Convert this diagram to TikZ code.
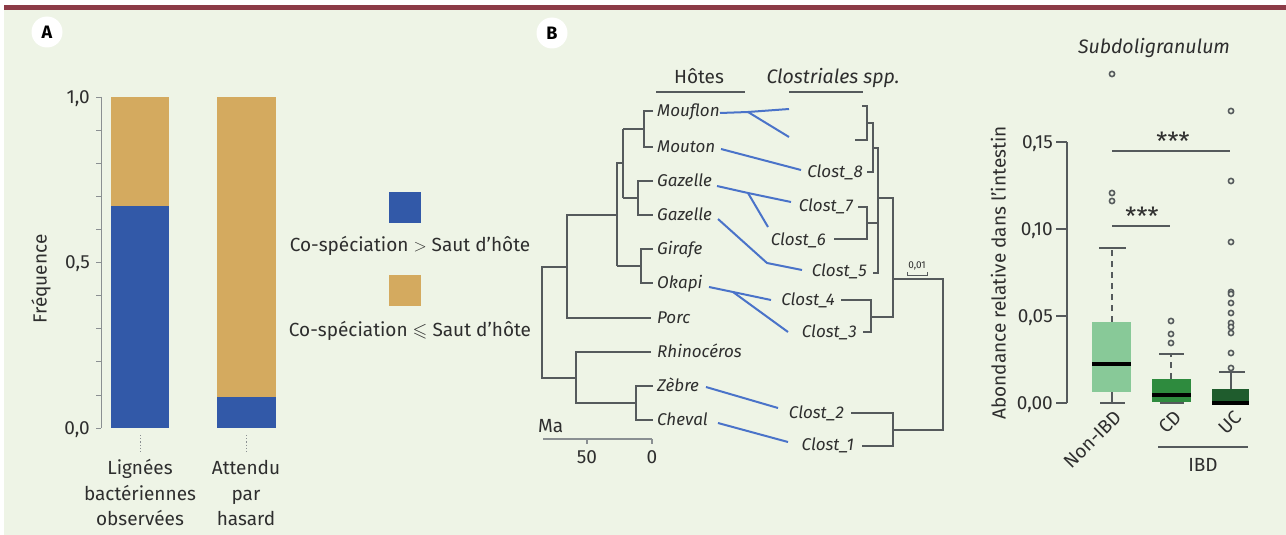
\documentclass[tikz,border=0pt]{standalone}
\usepackage{fontspec}
\setmainfont{Fira Sans}
\usepackage{amssymb}
\usetikzlibrary{calc}
\definecolor{bg}{HTML}{EEF4E6}
\definecolor{topred}{HTML}{8C3B47}
\definecolor{barblue}{HTML}{3259A8}
\definecolor{barorange}{HTML}{D4AA5F}
\definecolor{txt}{HTML}{2E2E2E}
\definecolor{treec}{HTML}{555A5C}
\definecolor{axc}{HTML}{8A8F92}
\definecolor{linkc}{HTML}{4A73C9}
\definecolor{gA}{HTML}{88C998}
\definecolor{gB}{HTML}{2E8B3E}
\definecolor{gC}{HTML}{1F5C2D}
\begin{document}
\begin{tikzpicture}[x=1pt,y=-1pt,
  tl/.style={draw=treec, line width=1.6pt},
  bl/.style={draw=linkc, line width=2pt},
  host/.style={font=\fontsize{17}{20}\selectfont\itshape, anchor=west, inner sep=0pt, text=txt, text height=11.5pt, text depth=0pt},
  clost/.style={font=\fontsize{17}{20}\selectfont\itshape, anchor=east, inner sep=0pt, text=txt, text height=11.5pt, text depth=0pt},
  lab/.style={font=\fontsize{19}{23}\selectfont, text=txt, inner sep=0pt, text height=13pt, text depth=0pt},
  outl/.style={draw=treec, line width=1.6pt, fill=bg},
  whisk/.style={draw=treec, line width=1.5pt},
  panel/.style={circle, fill=white, minimum size=31pt, inner sep=0pt, font=\fontsize{18}{18}\selectfont\bfseries, text=black}
]
\fill[bg] (0,0) rectangle (1286,535);
\fill[white] (0,0) rectangle (1286,5);
\fill[white] (0,0) rectangle (4,535);
\fill[topred] (4,5) rectangle (1286,10);
\useasboundingbox (0,0) rectangle (1286,535);

% ---------- Panel A ----------
\node[panel] (lblA) at (47,32) {A};
\draw[axc, line width=0.8pt] (101,97) -- (101,428);
\foreach \i in {0,...,10} \draw[axc, line width=0.8pt] (96,{97+\i*33.1}) -- (101,{97+\i*33.1});
\node[lab, anchor=east] (t10) at (90,97) {1,0};
\node[lab, anchor=east] (t05) at (90,262) {0,5};
\node[lab, anchor=east] (t00) at (90,428) {0,0};
\node[lab, rotate=90] (freq) at (40,279) {Fréquence};
\fill[barorange] (111,97) rectangle (169,206);
\fill[barblue] (111,206) rectangle (169,428);
\fill[barorange] (217,97) rectangle (276,397);
\fill[barblue] (217,397) rectangle (276,428);
\draw[axc, line width=1pt, dash pattern=on 1.2pt off 2pt] (140,435) -- (140,452);
\draw[axc, line width=1pt, dash pattern=on 1.2pt off 2pt] (246,435) -- (246,452);
\node[lab, align=center, font=\fontsize{19}{25.5}\selectfont, text height=, text depth=] (xl1) at (140,493) {Lignées\\bactériennes\\observées};
\node[lab, align=center, font=\fontsize{19}{25.5}\selectfont, text height=, text depth=] (xl2) at (246,493) {Attendu\\par\\hasard};
% legend
\fill[barblue] (389,192) rectangle (421,223);
\node[lab] (leg1) at (410,245) {Co-spéciation $>$ Saut d’hôte};
\fill[barorange] (389,275) rectangle (421,306);
\node[lab] (leg2) at (410,330) {Co-spéciation $\leqslant$ Saut d’hôte};

% ---------- Panel B ----------
\node[panel] (lblB) at (552,33) {B};
\node[lab] (hotes) at (699,77) {Hôtes};
\draw[treec, line width=2.2pt] (656,92) -- (745,92);
\node[lab, font=\fontsize{19.5}{23}\selectfont\itshape] (clh) at (833,77) {Clostriales spp.};
\draw[treec, line width=2.2pt] (789,92) -- (863,92);

% host leaves
\node[host] (mouflon) at (657,111) {Mouflon};
\node[host] (mouton)  at (657,147) {Mouton};
\node[host] (gaz1)    at (657,181) {Gazelle};
\node[host] (gaz2)    at (657,215) {Gazelle};
\node[host] (girafe)  at (657,249) {Girafe};
\node[host] (okapi)   at (657,283) {Okapi};
\node[host] (porc)    at (657,318) {Porc};
\node[host] (rhino)   at (657,352) {Rhinocéros};
\node[host] (zebre)   at (657,386) {Zèbre};
\node[host] (cheval)  at (657,420) {Cheval};

% host tree
\draw[tl] (653,111) -- (644,111) -- (644,147) -- (653,147);
\draw[tl] (644,129) -- (623,129);
\draw[tl] (653,181) -- (638,181) -- (638,215) -- (653,215);
\draw[tl] (638,198) -- (623,198);
\draw[tl] (623,129) -- (623,198);
\draw[tl] (623,163) -- (617,163) -- (617,266);
\draw[tl] (653,249) -- (641,249) -- (641,283) -- (653,283);
\draw[tl] (641,266) -- (617,266);
\draw[tl] (617,215) -- (567,215) -- (567,318) -- (651,318);
\draw[tl] (567,267) -- (542,267) -- (542,378) -- (576,378);
\draw[tl] (651,352) -- (576,352) -- (576,403) -- (636,403);
\draw[tl] (653,386) -- (636,386) -- (636,420) -- (653,420);

% Ma scale
\node[lab, anchor=west] (ma) at (538,426) {Ma};
\draw[axc, line width=1.2pt] (543,439) -- (652,439);
\draw[axc, line width=1.2pt] (587,439) -- (587,444);
\draw[axc, line width=1.2pt] (652,439) -- (652,444);
\node[lab] (s50) at (587,457) {50};
\node[lab] (s0) at (652,457) {0};

% bacterial leaves
\node[clost] (c8) at (863,172) {Clost\_8};
\node[clost] (c7) at (853,206) {Clost\_7};
\node[clost] (c6) at (826,240) {Clost\_6};
\node[clost] (c5) at (867,271) {Clost\_5};
\node[clost] (c4) at (835,300) {Clost\_4};
\node[clost] (c3) at (857,332) {Clost\_3};
\node[clost] (c2) at (844,413) {Clost\_2};
\node[clost] (c1) at (854,445) {Clost\_1};

% bacterial tree
\draw[tl] (862,106) -- (867,106) -- (867,140) -- (855,140);
\draw[tl] (867,123) -- (873,123) -- (873,172) -- (867,172);
\draw[tl] (873,148) -- (878,148) -- (878,273) -- (873,273);
\draw[tl] (858,207) -- (867,207) -- (867,239) -- (834,239);
\draw[tl] (867,223) -- (878,223);
\draw[treec, line width=2.8pt] (878,222) -- (878,247);
\draw[tl] (878,198) -- (893,198) -- (893,317) -- (871,317);
\draw[tl] (841,300) -- (871,300) -- (871,332) -- (863,332);
\draw[tl] (893,279) -- (943,279) -- (943,430) -- (893,430);
\draw[tl] (851,413) -- (893,413) -- (893,446) -- (862,446);
\node[font=\fontsize{10}{10}\selectfont, text=txt, inner sep=0pt] (sc01) at (917,266) {0,01};
\draw[treec, line width=0.8pt] (907,272) -- (907,275) -- (927,275) -- (927,272);

% links
\coordinate (j1) at (748,112);
\draw[bl] (720,113) -- (j1) -- (789,109);
\draw[bl] (j1) -- (789,137);
\draw[bl] (721,149) -- (801,170);
\coordinate (j2) at (748,193);
\draw[bl] (717,186) -- (j2) -- (791,202);
\draw[bl] (j2) -- (768,227);
\draw[bl] (718,219) -- (767,263) -- (802,270);
\coordinate (j3) at (733,292);
\draw[bl] (709,287) -- (j3) -- (771,300);
\draw[bl] (j3) -- (788,332);
\draw[bl] (706,387) -- (778,408);
\draw[bl] (718,423) -- (788,442);

% ---------- Boxplot ----------
\node[lab, font=\fontsize{19.5}{23}\selectfont\itshape] (title) at (1154,47) {Subdoligranulum};
\draw[treec, line width=1.5pt] (1067,142) -- (1067,403);
\foreach \yy in {142,229,316,403} \draw[treec, line width=1.5pt] (1056,\yy) -- (1067,\yy);
\node[lab, anchor=east] (y15) at (1053,142) {0,15};
\node[lab, anchor=east] (y10) at (1053,229) {0,10};
\node[lab, anchor=east] (y05) at (1053,316) {0,05};
\node[lab, anchor=east] (y00) at (1053,403) {0,00};
\node[lab, rotate=90] (ylab) at (999,273) {Abondance relative dans l’intestin};

% Non-IBD
\draw[whisk, dash pattern=on 6pt off 5pt] (1112,322) -- (1112,248);
\draw[whisk] (1099,248) -- (1126,248);
\draw[whisk] (1112,392) -- (1112,403);
\draw[whisk] (1100,403) -- (1125,403);
\fill[gA] (1092,322) rectangle (1131,392);
\draw[black, line width=3.8pt] (1092,364) -- (1131,364);
\foreach \yy in {74,193,201} \draw[outl] (1112,\yy) circle (2.6pt);
% CD
\draw[whisk, dash pattern=on 6pt off 5pt] (1171,379) -- (1171,354);
\draw[whisk] (1159,354) -- (1184,354);
\draw[whisk] (1160,403) -- (1184,403);
\fill[gB] (1152,379) rectangle (1191,402);
\draw[black, line width=3.8pt] (1152,395) -- (1191,395);
\foreach \yy in {321,334,343} \draw[outl] (1171,\yy) circle (2.6pt);
% UC
\draw[whisk] (1231,389) -- (1231,372);
\draw[whisk] (1219,372) -- (1245,372);
\fill[gC] (1212,389) rectangle (1249,405);
\draw[black, line width=3.8pt] (1212,403) -- (1249,403);
\foreach \yy in {111,181,242,292,294,303,313,323,327,333,353,368} \draw[outl] (1231,\yy) circle (2.6pt);

% significance
\draw[treec, line width=1.2pt] (1112,151) -- (1230,151);
\node[lab, font=\fontsize{25}{25}\selectfont] (st1) at (1173,144) {***};
\draw[treec, line width=1.2pt] (1112,226) -- (1170,226);
\node[lab, font=\fontsize{25}{25}\selectfont] (st2) at (1142,219) {***};

% x labels
\node[lab, rotate=45, anchor=east] (nonibd) at (1118,414) {Non-IBD};
\node[lab, rotate=45, anchor=east] (cd) at (1178,414) {CD};
\node[lab, rotate=45, anchor=east] (uc) at (1238,414) {UC};
\draw[treec, line width=1.2pt] (1158,447) -- (1248,447);
\node[lab] (ibd) at (1203,465) {IBD};
\end{tikzpicture}
\end{document}
